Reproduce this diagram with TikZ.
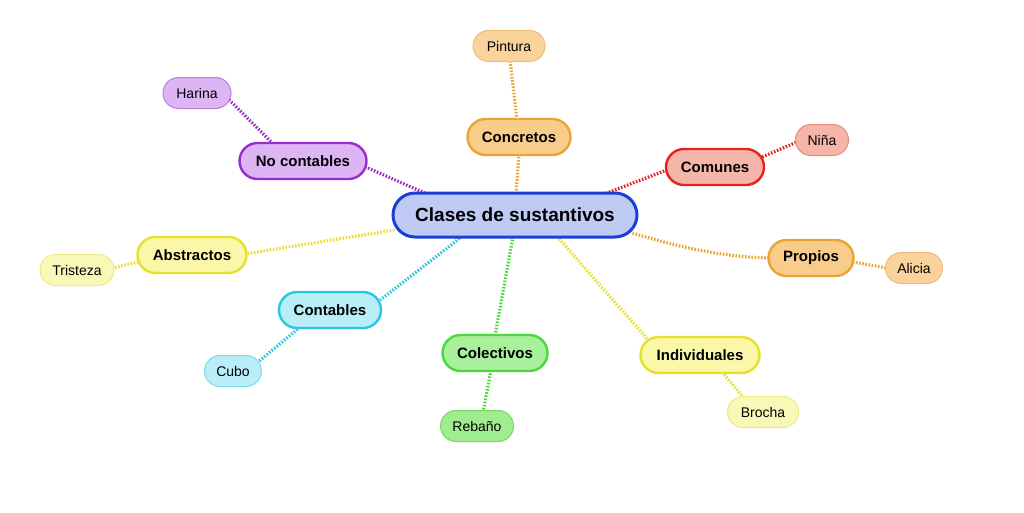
\documentclass[tikz,border=0pt]{standalone}
\usepackage{fontspec}
\setmainfont{Liberation Sans}
\usetikzlibrary{calc}
\pgfdeclarelayer{bg}
\pgfsetlayers{bg,main}
\definecolor{cblueF}{HTML}{BFCBF5}\definecolor{cblueD}{HTML}{1B3ED6}
\definecolor{corF}{HTML}{F8CD8C}\definecolor{corD}{HTML}{EBA332}
\definecolor{corLF}{HTML}{F9D39B}\definecolor{corLD}{HTML}{F0BE78}
\definecolor{cpuF}{HTML}{DDB4F4}\definecolor{cpuD}{HTML}{9A2CCD}\definecolor{cpuLD}{HTML}{B780DA}
\definecolor{credF}{HTML}{F6B5A9}\definecolor{credD}{HTML}{E42222}\definecolor{credLD}{HTML}{E88A80}
\definecolor{cyeF}{HTML}{FAF7A8}\definecolor{cyeD}{HTML}{E6E02A}\definecolor{cyeLF}{HTML}{FAF8B8}\definecolor{cyeLD}{HTML}{EEEA80}
\definecolor{ccyF}{HTML}{B9EEF8}\definecolor{ccyD}{HTML}{2AC6E2}\definecolor{ccyLD}{HTML}{7EDCEE}
\definecolor{cgrF}{HTML}{A9F09C}\definecolor{cgrD}{HTML}{4AD83A}\definecolor{cgrLF}{HTML}{A0EC90}\definecolor{cgrLD}{HTML}{78D868}
\definecolor{lnOr}{HTML}{EDA435}\definecolor{lnPu}{HTML}{9A2CCD}\definecolor{lnRe}{HTML}{E42222}
\definecolor{lnYe}{HTML}{E8E030}\definecolor{lnCy}{HTML}{2AC6E2}\definecolor{lnGr}{HTML}{4AD83A}
\tikzset{
  mainbox/.style={rectangle, rounded corners=22pt, fill=cblueF, draw=cblueD, line width=3pt, minimum width=244pt, minimum height=44pt, font=\fontsize{19}{22}\selectfont\bfseries, inner sep=0pt},
  branch/.style 2 args={rectangle, rounded corners=18pt, fill=#1, draw=#2, line width=2.4pt, minimum height=36pt, font=\fontsize{15}{18}\selectfont\bfseries, inner sep=0pt},
  leaf/.style 2 args={rectangle, rounded corners=15.5pt, fill=#1, draw=#2, line width=1pt, minimum height=31pt, font=\fontsize{14}{17}\selectfont, inner sep=0pt},
  conn/.style={draw=#1, line width=3.2pt, dash pattern=on 1.6pt off 1.6pt},
  x=1pt, y=-1pt
}
\begin{document}
\begin{tikzpicture}
\useasboundingbox (0,0) rectangle (1024,512);
\node[mainbox] (c) at (515,215) {Clases de sustantivos};
\node[branch={corF}{corD}, minimum width=103pt] (conc) at (519,137) {Concretos};
\node[leaf={corLF}{corLD}, minimum width=72pt] (pint) at (509,46) {Pintura};
\node[branch={cpuF}{cpuD}, minimum width=127pt] (noc) at (303,161) {No contables};
\node[leaf={cpuF}{cpuLD}, minimum width=68pt] (har) at (197,93) {Harina};
\node[branch={credF}{credD}, minimum width=98pt] (com) at (715,167) {Comunes};
\node[leaf={credF}{credLD}, minimum width=53pt] (nin) at (822,140) {Niña};
\node[branch={cyeF}{cyeD}, minimum width=109pt] (abs) at (192,255) {Abstractos};
\node[leaf={cyeLF}{cyeLD}, minimum width=74pt] (tri) at (77,270) {Tristeza};
\node[branch={corF}{corD}, minimum width=85pt] (pro) at (811,258) {Propios};
\node[leaf={corLF}{corLD}, minimum width=57pt] (ali) at (914,268) {Alicia};
\node[branch={ccyF}{ccyD}, minimum width=102pt] (cont) at (330,310) {Contables};
\node[leaf={ccyF}{ccyLD}, minimum width=57pt] (cub) at (233,371) {Cubo};
\node[branch={cgrF}{cgrD}, minimum width=105pt] (col) at (495,353) {Colectivos};
\node[leaf={cgrLF}{cgrLD}, minimum width=73pt] (reb) at (477,426) {Rebaño};
\node[branch={cyeF}{cyeD}, minimum width=119pt] (ind) at (700,355) {Individuales};
\node[leaf={cyeLF}{cyeLD}, minimum width=71pt] (bro) at (763,412) {Brocha};
\begin{pgfonlayer}{bg}
% centre to branches
\draw[conn=lnOr] ($(c.north)+(1,2)$) -- ($(conc.south)+(0,-2)$);
\draw[conn=lnPu] ($(c.north)+(-87,3)$) -- ($(noc.east)+(-2,6)$);
\draw[conn=lnRe] ($(c.north)+(88,3)$) -- ($(com.west)+(2,3)$);
\draw[conn=lnYe] ($(c.west)+(3,15)$) -- ($(abs.east)+(-3,-1)$);
\draw[conn=lnOr] ($(c.east)+(-6,18)$) .. controls ($(c.east)+(33,30)$) and ($(pro.west)+(-48,-1)$) .. ($(pro.west)+(2,0)$);
\draw[conn=lnCy] ($(c.south)+(-53,-2)$) -- ($(cont.east)+(-2,-10)$);
\draw[conn=lnGr] ($(c.south)+(-2,-2)$) -- ($(col.north)+(0,2)$);
\draw[conn=lnYe] ($(c.south)+(42,-2)$) -- ($(ind.north)+(-52,4)$);
% branches to leaves
\draw[conn=lnOr] ($(conc.north)+(-2,2)$) -- ($(pint.south)+(1,-2)$);
\draw[conn=lnPu] ($(noc.north)+(-30,2)$) -- ($(har.east)+(-4,5)$);
\draw[conn=lnRe] ($(com.east)+(-3,-10)$) -- ($(nin.west)+(2,2)$);
\draw[conn=lnYe] ($(abs.west)+(2,7)$) -- ($(tri.east)+(-2,-2)$);
\draw[conn=lnOr] ($(pro.east)+(-2,4)$) -- ($(ali.west)+(2,0)$);
\draw[conn=lnCy] ($(cont.south)+(-30,-2)$) -- ($(cub.east)+(-4,-9)$);
\draw[conn=lnGr] ($(col.south)+(-4,-2)$) -- ($(reb.north)+(6,2)$);
\draw[conn=lnYe] ($(ind.south)+(22,-2)$) -- ($(bro.north)+(-19,2)$);
\end{pgfonlayer}
\end{tikzpicture}
\end{document}
